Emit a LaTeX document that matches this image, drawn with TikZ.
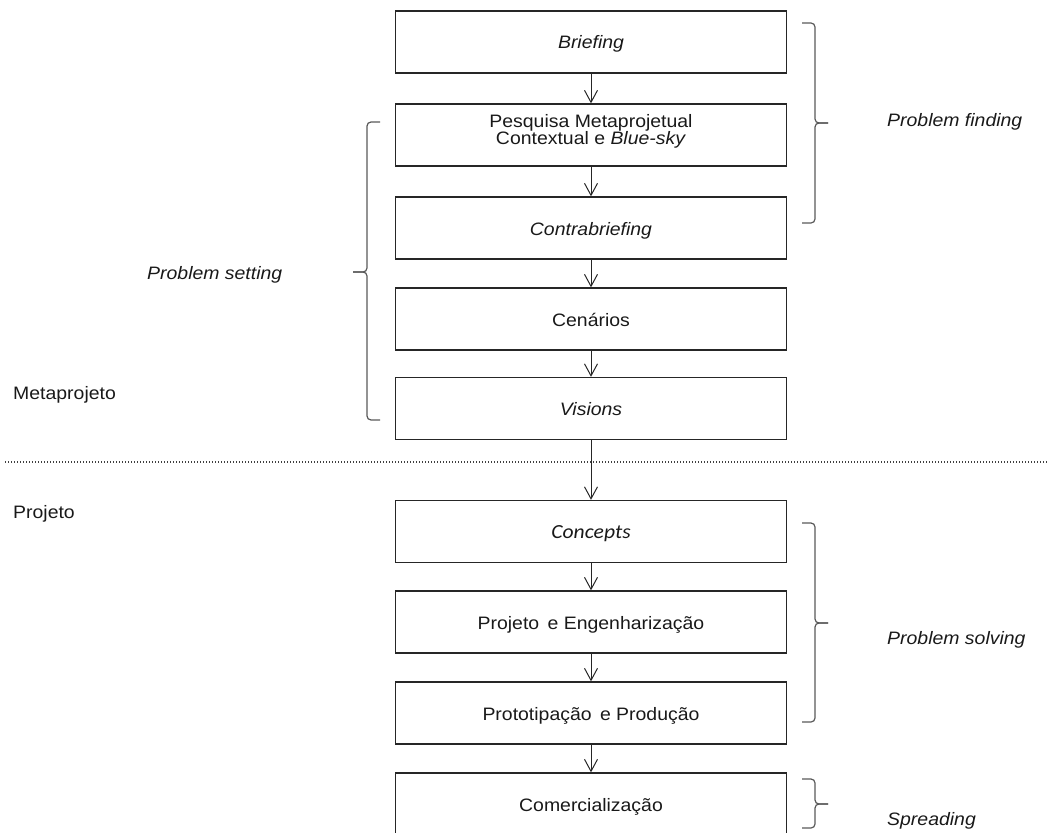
\documentclass[tikz,border=0pt]{standalone}
\usepackage{fontspec}
\setmainfont[FakeStretch=1.08]{Liberation Sans}
\newfontfamily\calib[FakeStretch=1.08]{Carlito}
\usetikzlibrary{arrows.meta}
\begin{document}
\begin{tikzpicture}[x=1pt,y=-1pt,
  box/.style={draw=black!85, line width=1.3pt, minimum width=391pt, minimum height=62pt,
    inner sep=0pt, text height=14pt, text depth=0pt, text=black!90,
    font=\fontsize{18}{21}\selectfont},
  flow/.style={draw=black!85, line width=1pt,
    -{Straight Barb[length=12pt,width=13pt,line width=1pt]}},
  brace/.style={draw=black!65, line width=1.2pt, rounded corners=4pt},
  lbl/.style={anchor=base west, inner sep=0pt, text=black!90, font=\fontsize{18}{21}\selectfont},
  sep/.style={draw=black!75, line width=1.8pt, dash pattern=on 1.4pt off 1.6pt}
]
\useasboundingbox (0,0) rectangle (1051,832);
% boxes
\node[box] (b1) at (591,42) {\textit{Briefing}};
\node[box, text height=12pt, text depth=27pt] (b2) at (591,135)
  {\vtop{\baselineskip=17pt\lineskiplimit=-20pt
   \hbox to 240pt{\hss Pesquisa Metaprojetual\hss}
   \hbox to 240pt{\hss Contextual e \textit{Blue-sky}\hss}}};
\node[box] (b3) at (591,228) {\textit{Contrabriefing}};
\node[box] (b4) at (591,319) {Cenários};
\node[box] (b5) at (591,408.5) {\textit{Visions}};
\node[box] (b6) at (591,531.5) {\calib\fontsize{20}{24}\selectfont\itshape Concepts};
\node[box] (b7) at (591,622) {Projeto\, e Engenharização};
\node[box] (b8) at (591,713) {Prototipação\, e Produção};
\node[box] (b9) at (591,804) {Comercialização};
% arrows
\draw[flow] (b1) -- (b2);
\draw[flow] (b2) -- (b3);
\draw[flow] (b3) -- (b4);
\draw[flow] (b4) -- (b5);
\draw[flow] (b5) -- (b6);
\draw[flow] (b6) -- (b7);
\draw[flow] (b7) -- (b8);
\draw[flow] (b8) -- (b9);
% separator
\coordinate (sl) at (5,462);
\coordinate (sr) at (1047,462);
\draw[sep] (sl) -- (sr);
% braces
\draw[brace] (802,23) -- (815,23) -- (815,123) -- (828,123);
\draw[brace] (828,123) -- (815,123) -- (815,223) -- (802,223);
\draw[brace] (380,122) -- (367,122) -- (367,272) -- (353,272);
\draw[brace] (353,272) -- (367,272) -- (367,420) -- (380,420);
\draw[brace] (802,523) -- (815,523) -- (815,623) -- (828,623);
\draw[brace] (828,623) -- (815,623) -- (815,722) -- (802,722);
\draw[brace] (802,779) -- (815,779) -- (815,804) -- (828,804);
\draw[brace] (828,804) -- (815,804) -- (815,828) -- (802,828);
% labels
\node[lbl] (pf) at (887,127) {\textit{Problem finding}};
\node[lbl] (ps) at (147,279) {\textit{Problem setting}};
\node[lbl] (pso) at (887,644) {\textit{Problem solving}};
\node[lbl] (sp) at (887,825) {\textit{Spreading}};
\node[lbl] (meta) at (13,399) {Metaprojeto};
\node[lbl] (proj) at (13,518) {Projeto};
\end{tikzpicture}
\end{document}
